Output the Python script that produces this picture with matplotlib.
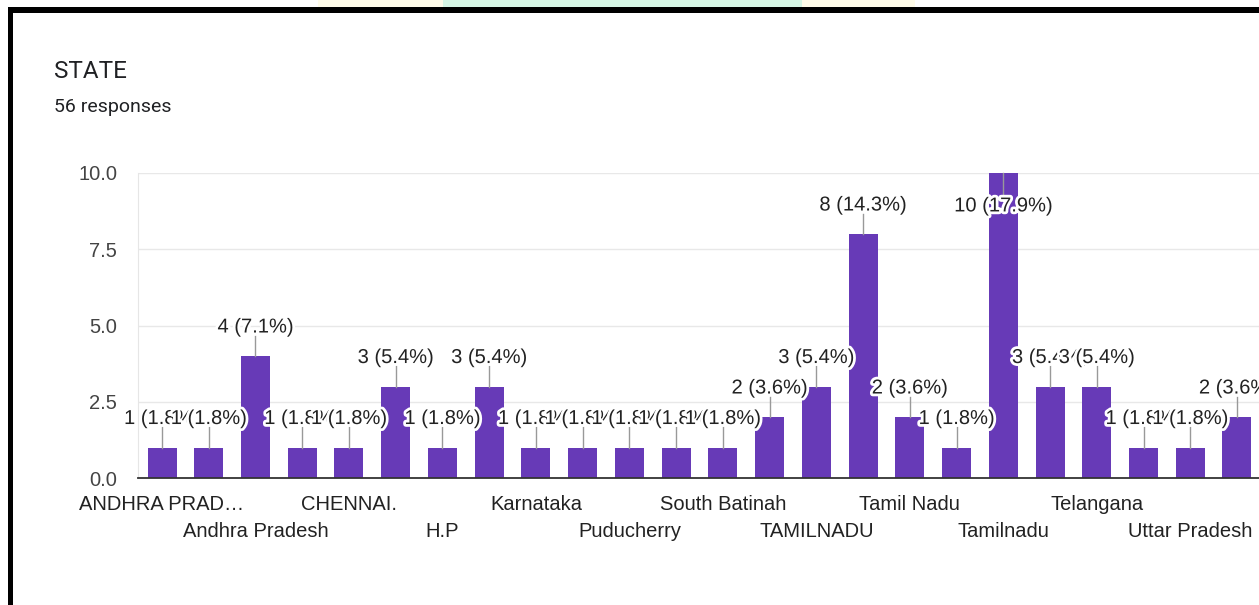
import matplotlib
matplotlib.use("Agg")
import matplotlib.pyplot as plt
import matplotlib.patheffects as pe
from matplotlib.patches import Rectangle
import numpy as np

# categories (only every other label is visible in the chart)
categories = ["ANDHRA PRAD\u2026", "", "Andhra Pradesh", "", "CHENNAI.", "",
              "H.P", "", "Karnataka", "", "Puducherry", "", "South Batinah", "",
              "TAMILNADU", "", "Tamil Nadu", "", "Tamilnadu", "", "Telangana", "",
              "Uttar Pradesh", ""]
counts = [1, 1, 4, 1, 1, 3, 1, 3, 1, 1, 1, 1, 1, 2, 3, 8, 2, 1, 10, 3, 3, 1, 1, 2]
total = 56
yticks = [0.0, 2.5, 5.0, 7.5, 10.0]

W, H = 1259, 605
fig = plt.figure(figsize=(W / 100, H / 100), dpi=100)
fig.patch.set_facecolor("white")

# screenshot frame and faint strip above it
fig.add_artist(Rectangle((318 / W, 1 - 7 / H), 125 / W, 7 / H, transform=fig.transFigure,
                         facecolor="#fffcea", edgecolor="none"))
fig.add_artist(Rectangle((443 / W, 1 - 7 / H), 359 / W, 7 / H, transform=fig.transFigure,
                         facecolor="#d6f6e5", edgecolor="none"))
fig.add_artist(Rectangle((802 / W, 1 - 7 / H), 113 / W, 7 / H, transform=fig.transFigure,
                         facecolor="#fffcea", edgecolor="none"))
fig.add_artist(Rectangle((8 / W, 1 - 12.5 / H), 1 - 8 / W, 5.5 / H, transform=fig.transFigure,
                         facecolor="black", edgecolor="none"))
fig.add_artist(Rectangle((8 / W, 0), 5 / W, 1 - 7 / H, transform=fig.transFigure,
                         facecolor="black", edgecolor="none"))

fig.text(54 / W, 1 - 72 / H, "STATE", fontsize=17.5, family="Roboto",
         color="#202124", va="center", ha="left")
fig.text(54 / W, 1 - 107 / H, "56 responses", fontsize=14, family="Roboto",
         color="#202124", va="center", ha="left")

ax = fig.add_axes([138 / W, (H - 478) / H, (1261 - 138) / W, (478 - 173) / H])
x = np.arange(len(counts))
ax.bar(x, counts, width=0.62, color="#673ab7", zorder=2)
ax.set_xlim(-0.514, len(counts) - 0.486)
ax.set_ylim(0, 10)

for s in ["top", "right"]:
    ax.spines[s].set_visible(False)
ax.spines["left"].set_color("#e6e6e6")
ax.spines["bottom"].set_color("#333333")
ax.spines["bottom"].set_linewidth(1.3)
ax.spines["bottom"].set_zorder(3)
ax.set_yticks(yticks)
ax.set_yticklabels([f"{v:.1f}" for v in yticks], fontsize=14.5, family="Liberation Sans", color="#444444")
ax.yaxis.grid(True, color="#e8e8e8", linewidth=1, zorder=0)
ax.tick_params(axis="y", length=0, pad=15)

ax.set_xticks(x)
ax.set_xticklabels(categories, fontsize=14.5, family="Liberation Sans", color="#222222")
ax.tick_params(axis="x", length=0)
for i, t in enumerate(ax.xaxis.get_major_ticks()):
    t.set_pad(12 if i % 4 == 0 else 31.5)

halo = [pe.withStroke(linewidth=4, foreground="white")]
z = 5
for xi, v in zip(x, counts):
    label = f"{v} ({v / total * 100:.1f}%)"
    if v + 1.3 > 10:
        ty = v - 1.08
        ax.plot([xi, xi], [v, ty + 0.38], color="#999999", lw=1, zorder=z, clip_on=False)
    else:
        ty = v + 0.95
        ax.plot([xi, xi], [v, v + 0.66], color="#999999", lw=1, zorder=z)
    ax.text(xi, ty, label, ha="center", va="center", fontsize=14.5, family="Liberation Sans",
            color="#222222", path_effects=halo, zorder=z + 1)
    z += 2

fig.savefig("out.png", dpi=100)
